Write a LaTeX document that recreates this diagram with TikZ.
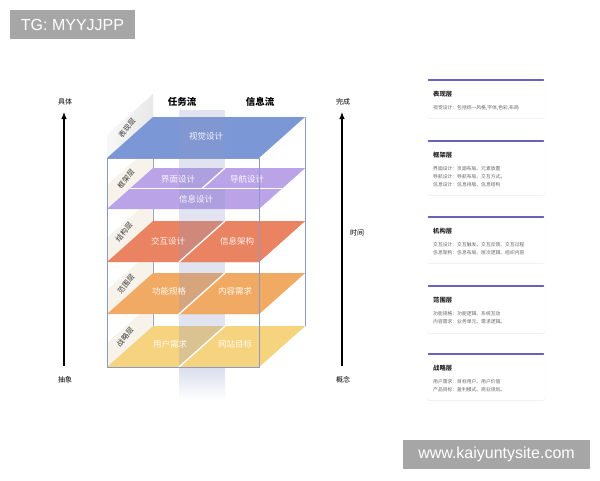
\documentclass[tikz,border=0pt]{standalone}
\usepackage{fontspec}
\setmainfont{Liberation Sans}
\newfontfamily\cjk{Noto Sans CJK SC}
\usetikzlibrary{positioning,shadows,arrows.meta}

\definecolor{layerblue}{RGB}{124,151,214}
\definecolor{layerpurple}{RGB}{187,163,232}
\definecolor{layerred}{RGB}{233,131,97}
\definecolor{layerorange}{RGB}{241,170,100}
\definecolor{layeryellow}{RGB}{246,211,126}
\definecolor{boxline}{RGB}{140,155,196}
\definecolor{planetint}{RGB}{140,152,200}
\definecolor{cardline}{RGB}{106,98,184}
\definecolor{markgray}{RGB}{166,166,166}
\definecolor{panelcream}{RGB}{247,243,235}

\tikzset{
  layertext/.style={text=white,text opacity=0.92,font=\cjk\fontsize{8.5}{10}\selectfont},
  sidetext/.style={text=black!78,font=\cjk\fontsize{7.2}{8}\selectfont,rotate=50,inner sep=0pt},
  headtext/.style={font=\cjk\bfseries\fontsize{9.5}{11}\selectfont},
  axistext/.style={font=\cjk\fontsize{7}{8}\selectfont},
  axisarrow/.style={line width=1.1pt,-{Latex[length=7pt,width=5.5pt]}},
  splitline/.style={white,line width=1.3pt},
  cardbox/.style={fill=white,rounded corners=2.5pt,
    drop shadow={opacity=0.12,shadow xshift=0pt,shadow yshift=-0.8pt}},
  cardtitle/.style={font=\cjk\bfseries\fontsize{6.3}{7}\selectfont,text=black!85,anchor=west,inner sep=0pt},
  cardbody/.style={font=\cjk\fontsize{4.8}{7.8}\selectfont,text=black!60,anchor=north west,align=left,inner sep=0pt},
  watermark/.style={fill=markgray,text=white,font=\fontsize{16}{18}\selectfont,inner sep=0pt},
}

\begin{document}
\begin{tikzpicture}[x=1pt,y=-1pt]
  \useasboundingbox[fill=white] (0,0) rectangle (600,480);

  % back edges of the box
  \draw[boxline,line width=0.7pt] (153,117) -- (153,326);
  \draw[boxline,line width=0.7pt] (305,117) -- (305,326);

  % side panels
  \shade[left color=gray!6,right color=gray!18] (107,158) -- (153,117) -- (153,94) -- (107,135) -- cycle;
  \foreach \f in {209,262,314,367}
    \fill[panelcream] (107,\f) -- (153,\f-41) -- (153,\f-65) -- (107,\f-24) -- cycle;

  % layers
  \fill[layerblue] (107,158) -- (259,158) -- ++(46,-41) -- (153,117) -- cycle;
  \fill[layerpurple] (107,209) -- (259,209) -- ++(46,-41) -- (153,168) -- cycle;
  \fill[layerred] (107,262) -- (259,262) -- ++(46,-41) -- (153,221) -- cycle;
  \fill[layerorange] (107,314) -- (259,314) -- ++(46,-41) -- (153,273) -- cycle;
  \fill[layeryellow] (107,367) -- (259,367) -- ++(46,-41) -- (153,326) -- cycle;

  % middle plane
  \fill[planetint,opacity=0.26] (179,110) rectangle (225,367);
  \shade[top color=planetint!32,bottom color=white] (179,367) rectangle (225,400);
  \fill[layerpurple] (202,188.5) -- (282,188.5) -- (305,168) -- (225,168) -- cycle;
  \fill[layerred] (179,262) -- (259,262) -- (305,221) -- (225,221) -- cycle;
  \fill[layerorange] (179,314) -- (259,314) -- (305,273) -- (225,273) -- cycle;
  \fill[layeryellow] (179,367) -- (259,367) -- (305,326) -- (225,326) -- cycle;

  % white splits
  \draw[splitline] (130,188.5) -- (282,188.5);
  \draw[splitline] (225,168) -- (202,188.5);
  \foreach \f in {262,314,367}
    \draw[splitline] (225,\f-41) -- (179,\f);

  % front of the box
  \draw[boxline,line width=0.7pt] (107,158) rectangle (259,367);

  % layer texts
  \node[layertext] (shijue) at (206,136) {视觉设计};
  \node[layertext] (jiemian) at (178,179) {界面设计};
  \node[layertext] (daohang) at (247,179) {导航设计};
  \node[layertext] (xinxisj) at (196,199) {信息设计};
  \node[layertext] (jiaohu) at (168,241) {交互设计};
  \node[layertext] (jiagou) at (237,241) {信息架构};
  \node[layertext] (gongneng) at (169,291) {功能规格};
  \node[layertext] (neirong) at (235,291) {内容需求};
  \node[layertext] (yonghu) at (170,344) {用户需求};
  \node[layertext] (mubiao) at (235,344) {网站目标};

  % side labels
  \node[sidetext] (biaoxian) at (127,128) {表现层};
  \node[sidetext] (kuangjia) at (126,179) {框架层};
  \node[sidetext] (jiegou) at (124,232) {结构层};
  \node[sidetext] (fanwei) at (126,284) {范围层};
  \node[sidetext] (zhanlue) at (125,337) {战略层};

  % heads
  \node[headtext] (renwu) at (182,102) {任务流};
  \node[headtext] (xinxi) at (260,102) {信息流};

  % axes
  \node[axistext] (juti) at (65,102) {具体};
  \node[axistext] (chouxiang) at (65,380) {抽象};
  \node[axistext] (wancheng) at (343,102) {完成};
  \node[axistext] (gainian) at (343,380) {概念};
  \node[axistext] (shijian) at (357,233) {时间};
  \coordinate (ldown) at (64,366);
  \coordinate (lup) at (64,112);
  \coordinate (rdown) at (342,366);
  \coordinate (rup) at (342,112);
  \draw[axisarrow] (ldown) -- (lup);
  \draw[axisarrow] (rdown) -- (rup);

  % cards
  \foreach \i/\yt/\h/\ttl/\body in {
      1/80/38/表现层/{视觉设计：包括统一风格,字体,色彩,布局},
      2/141/54/框架层/{界面设计：页面布局、元素放置\\导航设计：导航布局、交互方式。\\信息设计：信息排版、信息结构},
      3/217/46/机构层/{交互设计：交互触发、交互反馈、交互过程\\信息架构：信息布局、层次逻辑、组织内容},
      4/286/47/范围层/{功能规格：功能逻辑、系统互动\\内容需求：业务单元、需求逻辑。},
      5/354/46/战略层/{用户需求：目标用户、用户价值\\产品目标：盈利模式、商业规划。}}{
    \path[cardbox] (427,\yt) rectangle (545,\yt+\h);
    \draw[cardline,line width=1.4pt,line cap=round] (428.5,\yt) -- (543.5,\yt);
    \node[cardtitle] (title\i) at (433,\yt+14) {\ttl};
    \node[cardbody] (body\i) at (433,\yt+25.5) {\body};
  }

  % watermarks
  \node[watermark,minimum width=125pt,minimum height=29pt] (tg) at (72.5,24.5) {TG: MYYJJPP};
  \node[watermark,minimum width=187pt,minimum height=29pt] (site) at (496.5,454.5) {www.kaiyuntysite.com};
\end{tikzpicture}
\end{document}
